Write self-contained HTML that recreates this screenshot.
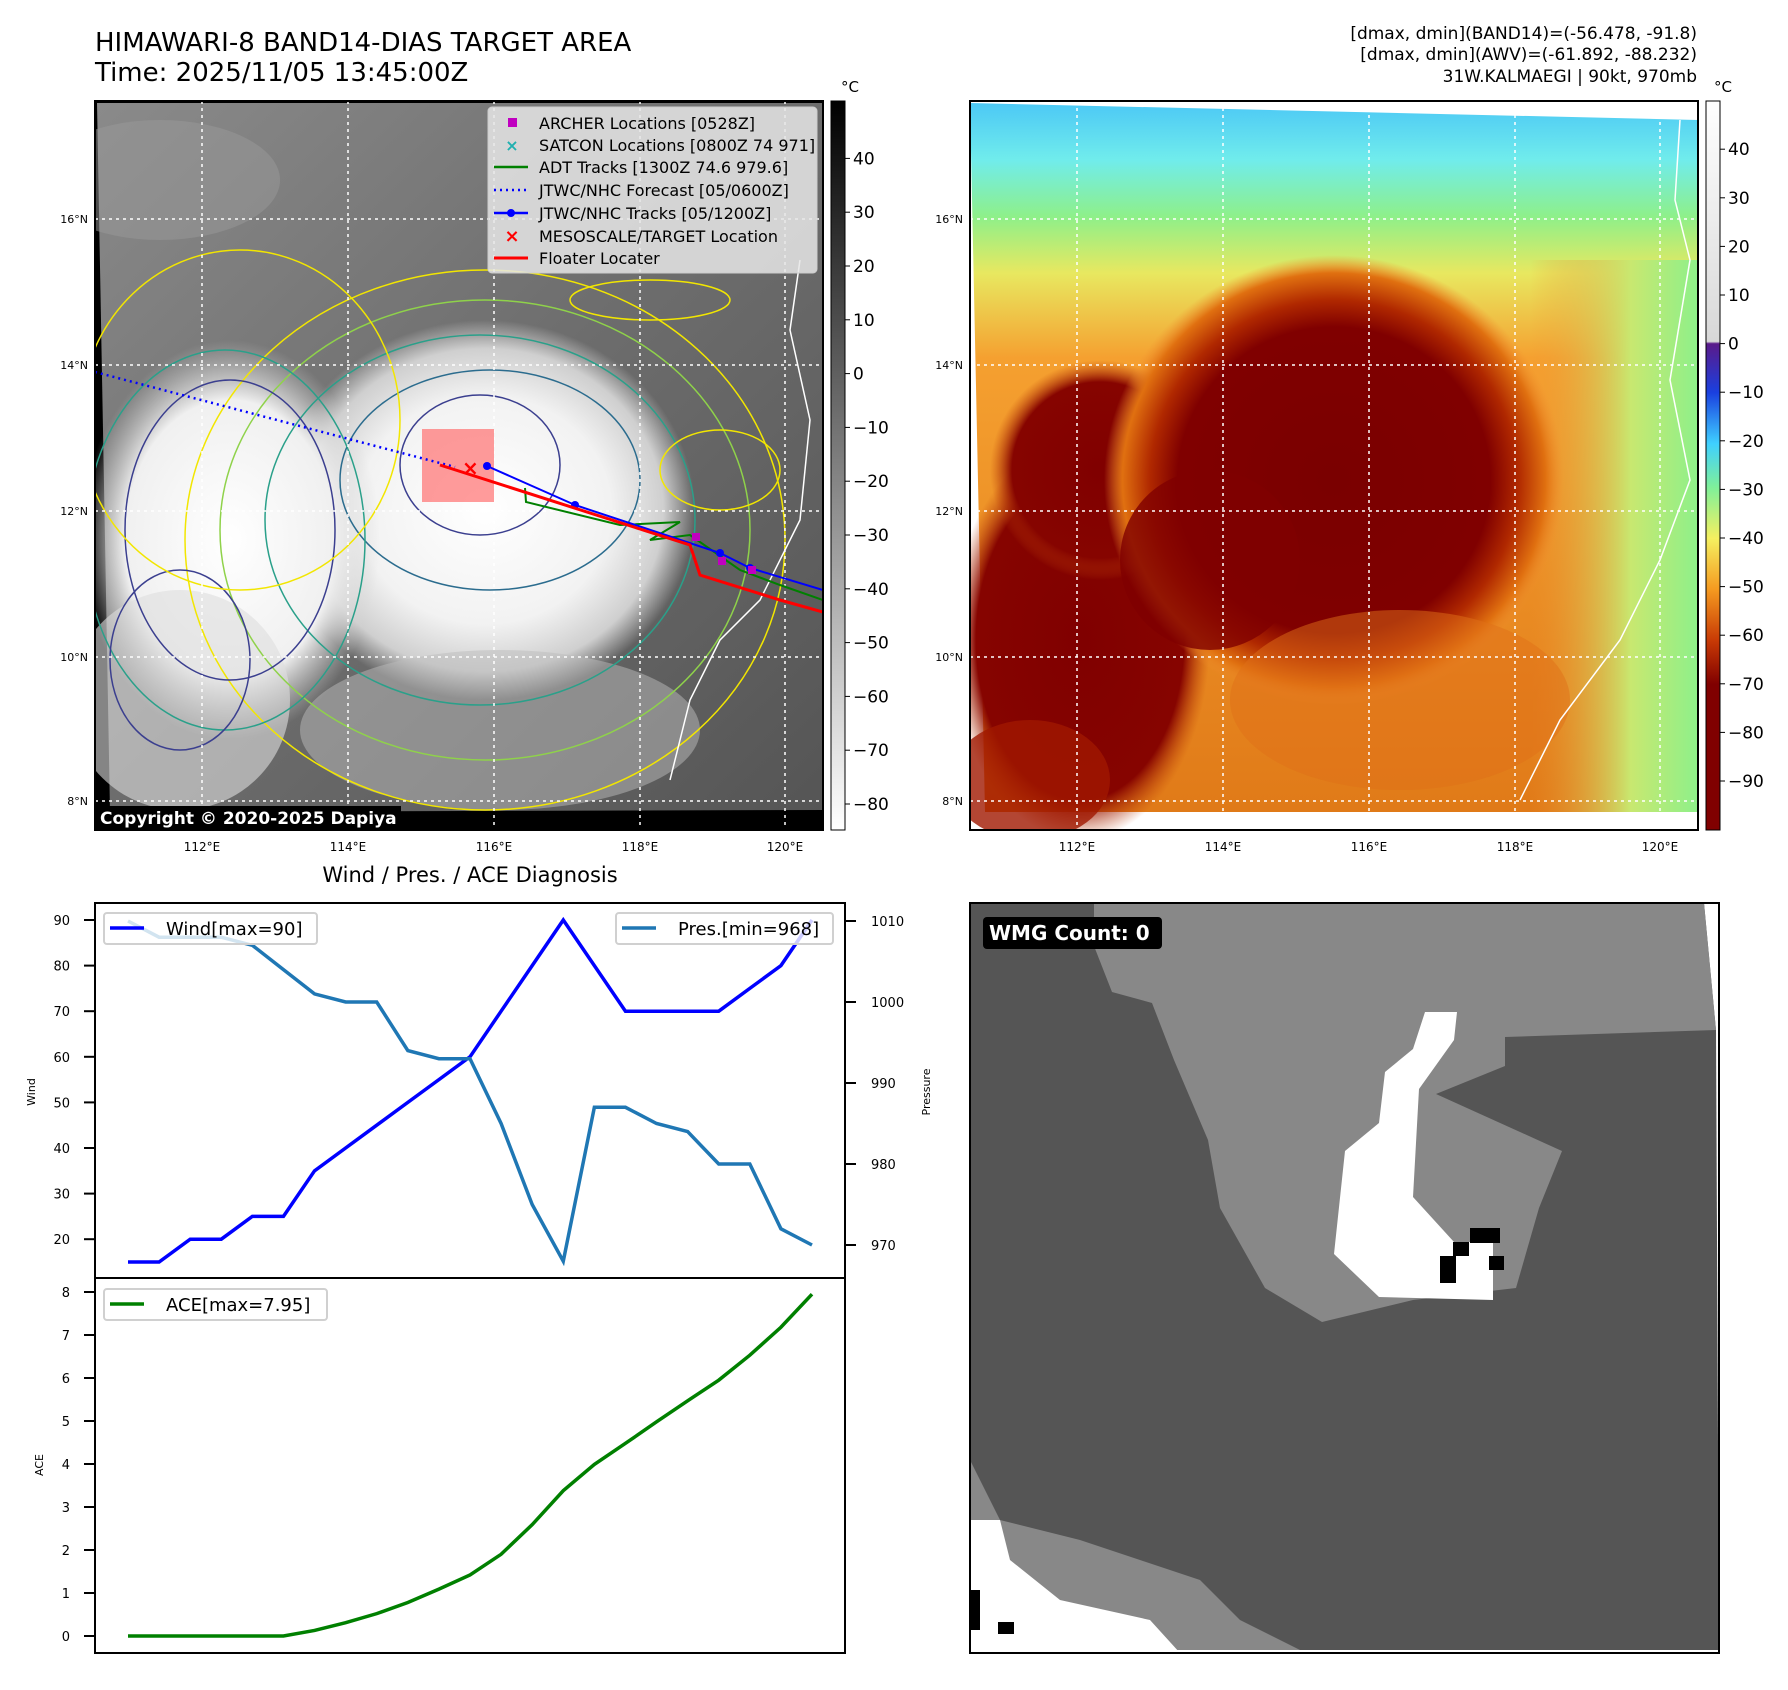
<!DOCTYPE html>
<html><head><meta charset="utf-8">
<style>
html,body{margin:0;padding:0;background:#fff;}
svg{display:block;font-family:"DejaVu Sans","Liberation Sans",sans-serif;}
</style></head>
<body>
<svg id="fig" width="1788" height="1690" viewBox="0 0 1788 1690" xmlns="http://www.w3.org/2000/svg">
<defs>
  <linearGradient id="cbGray" x1="0" y1="1" x2="0" y2="0">
    <stop offset="0" stop-color="#fff"/><stop offset="1" stop-color="#000"/>
  </linearGradient>
  <linearGradient id="cbColor" x1="0" y1="0" x2="0" y2="1">
    <stop offset="0" stop-color="#ffffff"/>
    <stop offset="0.33" stop-color="#d8d8d8"/>
    <stop offset="0.333" stop-color="#5a1a8a"/>
    <stop offset="0.40" stop-color="#1a40e0"/>
    <stop offset="0.47" stop-color="#3fd0ff"/>
    <stop offset="0.53" stop-color="#7ff09a"/>
    <stop offset="0.60" stop-color="#f5f060"/>
    <stop offset="0.67" stop-color="#f59a20"/>
    <stop offset="0.74" stop-color="#c83a05"/>
    <stop offset="0.80" stop-color="#800000"/>
    <stop offset="1" stop-color="#800000"/>
  </linearGradient>
  <linearGradient id="tlBg" x1="0" y1="0" x2="1" y2="1">
    <stop offset="0" stop-color="#8a8a8a"/><stop offset="0.5" stop-color="#6d6d6d"/><stop offset="1" stop-color="#555"/>
  </linearGradient>
  <radialGradient id="storm1" cx="0.5" cy="0.5" r="0.5">
    <stop offset="0" stop-color="#fff"/><stop offset="0.6" stop-color="#f2f2f2"/><stop offset="0.85" stop-color="#cfcfcf"/><stop offset="1" stop-color="#cfcfcf" stop-opacity="0"/>
  </radialGradient>
  <radialGradient id="storm2" cx="0.5" cy="0.5" r="0.5">
    <stop offset="0" stop-color="#fff"/><stop offset="0.7" stop-color="#f0f0f0"/><stop offset="1" stop-color="#d0d0d0" stop-opacity="0"/>
  </radialGradient>
  <linearGradient id="trBg" x1="0" y1="0" x2="0" y2="1">
    <stop offset="0" stop-color="#4cc8f5"/><stop offset="0.08" stop-color="#70ecec"/><stop offset="0.16" stop-color="#8ef08a"/><stop offset="0.24" stop-color="#e8e860"/><stop offset="0.36" stop-color="#f5a030"/><stop offset="1" stop-color="#e07a18"/>
  </linearGradient>
  <radialGradient id="trCore" cx="0.5" cy="0.5" r="0.5">
    <stop offset="0" stop-color="#7a0000"/><stop offset="0.68" stop-color="#800000"/><stop offset="0.8" stop-color="#b02800"/><stop offset="0.92" stop-color="#e07010"/><stop offset="1" stop-color="#f09030" stop-opacity="0"/>
  </radialGradient>
  <radialGradient id="trLeft" cx="0.5" cy="0.5" r="0.5">
    <stop offset="0" stop-color="#800000"/><stop offset="0.8" stop-color="#860400"/><stop offset="1" stop-color="#c04008" stop-opacity="0"/>
  </radialGradient>
  <linearGradient id="trRight" x1="0" y1="0" x2="1" y2="0">
    <stop offset="0" stop-color="#f09030" stop-opacity="0"/><stop offset="0.6" stop-color="#c8e870"/><stop offset="1" stop-color="#8ef08a"/>
  </linearGradient>
  <clipPath id="clipTL"><rect x="95" y="101" width="728" height="729"/></clipPath>
  <clipPath id="clipTR"><rect x="970" y="101" width="728" height="729"/></clipPath>
  <clipPath id="clipBR"><rect x="970" y="903" width="749" height="750"/></clipPath>
</defs>

<!-- Titles -->
<text x="95" y="51" font-size="26">HIMAWARI-8 BAND14-DIAS TARGET AREA</text>
<text x="95" y="81" font-size="26">Time: 2025/11/05 13:45:00Z</text>
<g font-size="17" text-anchor="end">
  <text x="1697" y="39">[dmax, dmin](BAND14)=(-56.478, -91.8)</text>
  <text x="1697" y="60">[dmax, dmin](AWV)=(-61.892, -88.232)</text>
  <text x="1697" y="82">31W.KALMAEGI | 90kt, 970mb</text>
</g>

<!-- TL map -->
<g clip-path="url(#clipTL)">
  <rect x="95" y="101" width="728" height="729" fill="#000"/>
  <polygon points="97,103 823,103 823,810 110,812" fill="url(#tlBg)"/>
  <ellipse cx="160" cy="180" rx="120" ry="60" fill="#999" opacity="0.5"/>
  <ellipse cx="485" cy="510" rx="210" ry="190" fill="url(#storm1)"/>
  <ellipse cx="230" cy="540" rx="150" ry="200" fill="url(#storm2)"/>
  <ellipse cx="180" cy="700" rx="110" ry="110" fill="#ddd" opacity="0.6"/>
  <ellipse cx="500" cy="730" rx="200" ry="80" fill="#bbb" opacity="0.5"/>
  <g fill="none" stroke-width="1.5">
    <ellipse cx="485" cy="540" rx="300" ry="270" stroke="#f2e600"/>
    <ellipse cx="485" cy="530" rx="265" ry="230" stroke="#8fd24a"/>
    <ellipse cx="480" cy="520" rx="215" ry="185" stroke="#2aa08a"/>
    <ellipse cx="490" cy="480" rx="150" ry="110" stroke="#2b6c8e"/>
    <ellipse cx="480" cy="465" rx="80" ry="70" stroke="#3b3f8f"/>
    <ellipse cx="225" cy="540" rx="140" ry="190" stroke="#2aa08a"/>
    <ellipse cx="230" cy="530" rx="105" ry="150" stroke="#3b3f8f"/>
    <ellipse cx="180" cy="660" rx="70" ry="90" stroke="#3b3f8f"/>
    <ellipse cx="240" cy="420" rx="160" ry="170" stroke="#f2e600"/>
    <ellipse cx="720" cy="470" rx="60" ry="40" stroke="#f2e600"/>
    <ellipse cx="650" cy="300" rx="80" ry="20" stroke="#f2e600"/>
  </g>
  <polyline points="800,260 790,330 810,420 800,520 760,600 720,640 690,700 670,780" fill="none" stroke="#fff" stroke-width="1.5"/>
  <g stroke="#fff" stroke-width="1.5" stroke-dasharray="3,4">
    <line x1="202" y1="101" x2="202" y2="830"/><line x1="348" y1="101" x2="348" y2="830"/><line x1="494" y1="101" x2="494" y2="830"/><line x1="640" y1="101" x2="640" y2="830"/><line x1="785" y1="101" x2="785" y2="830"/>
    <line x1="95" y1="219" x2="823" y2="219"/><line x1="95" y1="365" x2="823" y2="365"/><line x1="95" y1="511" x2="823" y2="511"/><line x1="95" y1="657" x2="823" y2="657"/><line x1="95" y1="801" x2="823" y2="801"/>
  </g>
  <rect x="422" y="429" width="72" height="73" fill="#ff7070" opacity="0.7"/>
  <line x1="95" y1="372" x2="455" y2="467" stroke="#0000ff" stroke-width="2.5" stroke-dasharray="2,4"/>
  <polyline points="525,488 526,502 620,525 680,522 650,540 690,535 740,570 780,585 823,600" fill="none" stroke="#008000" stroke-width="2"/>
  <polyline points="487,466 575,505 720,553 750,568 823,590" fill="none" stroke="#0000ff" stroke-width="2"/>
  <g fill="#0000ff"><circle cx="487" cy="466" r="4"/><circle cx="575" cy="505" r="4"/><circle cx="720" cy="553" r="4"/><circle cx="750" cy="568" r="4"/></g>
  <polyline points="440,465 690,545 700,575 780,600 823,612" fill="none" stroke="#ff0000" stroke-width="3"/>
  <g fill="#c000c0"><rect x="692" y="533" width="8" height="8"/><rect x="718" y="557" width="8" height="8"/><rect x="748" y="566" width="8" height="8"/></g>
  <text x="462" y="475" fill="#ff0000" font-size="20" font-weight="bold">×</text>
  <rect x="95" y="806" width="306" height="24" fill="#000"/>
  <text x="100" y="824" fill="#fff" font-size="17" font-weight="bold">Copyright © 2020-2025 Dapiya</text>
</g>
<rect x="95" y="101" width="728" height="729" fill="none" stroke="#000" stroke-width="2"/>

<!-- TL legend -->
<g font-size="16">
  <rect x="488" y="107" width="329" height="166" rx="4" fill="#e6e6e6" fill-opacity="0.85" stroke="#ccc"/>
  <rect x="508" y="118" width="9" height="9" fill="#c000c0"/>
  <text x="512" y="151" fill="#20b0b0" font-size="16" font-weight="bold" text-anchor="middle">×</text>
  <line x1="494" y1="167" x2="528" y2="167" stroke="#008000" stroke-width="2.5"/>
  <line x1="494" y1="190" x2="528" y2="190" stroke="#0000ff" stroke-width="2.5" stroke-dasharray="2,4"/>
  <line x1="494" y1="213" x2="528" y2="213" stroke="#0000ff" stroke-width="2.5"/><circle cx="511" cy="213" r="4" fill="#0000ff"/>
  <text x="512" y="242" fill="#ff0000" font-size="18" font-weight="bold" text-anchor="middle">×</text>
  <line x1="494" y1="258" x2="528" y2="258" stroke="#ff0000" stroke-width="3"/>
  <text x="539" y="129">ARCHER Locations [0528Z]</text>
  <text x="539" y="151">SATCON Locations [0800Z 74 971]</text>
  <text x="539" y="173">ADT Tracks [1300Z 74.6 979.6]</text>
  <text x="539" y="196">JTWC/NHC Forecast [05/0600Z]</text>
  <text x="539" y="219">JTWC/NHC Tracks [05/1200Z]</text>
  <text x="539" y="242">MESOSCALE/TARGET Location</text>
  <text x="539" y="264">Floater Locater</text>
</g>

<!-- TR map -->
<g clip-path="url(#clipTR)">
  <rect x="970" y="101" width="728" height="729" fill="#fff"/>
  <polygon points="970,103 1698,120 1698,812 985,812" fill="url(#trBg)"/>
  <rect x="1530" y="260" width="168" height="552" fill="url(#trRight)"/>
  <ellipse cx="1080" cy="640" rx="130" ry="200" fill="url(#trLeft)"/>
  <ellipse cx="1100" cy="470" rx="110" ry="110" fill="url(#trLeft)"/>
  <ellipse cx="1030" cy="780" rx="80" ry="60" fill="#a01800" opacity="0.8"/>
  <ellipse cx="1334" cy="480" rx="230" ry="225" fill="url(#trCore)"/>
  <ellipse cx="1210" cy="560" rx="90" ry="90" fill="#800000" opacity="0.8"/>
  <ellipse cx="1400" cy="700" rx="170" ry="90" fill="#e07018" opacity="0.5"/>
  <polyline points="1680,120 1675,200 1690,260 1670,380 1690,480 1660,560 1620,640 1560,720 1520,800" fill="none" stroke="#fff" stroke-width="1.5"/>
  <g stroke="#fff" stroke-width="1.5" stroke-dasharray="3,4">
    <line x1="1077" y1="101" x2="1077" y2="830"/><line x1="1223" y1="101" x2="1223" y2="830"/><line x1="1369" y1="101" x2="1369" y2="830"/><line x1="1515" y1="101" x2="1515" y2="830"/><line x1="1660" y1="101" x2="1660" y2="830"/>
    <line x1="970" y1="219" x2="1698" y2="219"/><line x1="970" y1="365" x2="1698" y2="365"/><line x1="970" y1="511" x2="1698" y2="511"/><line x1="970" y1="657" x2="1698" y2="657"/><line x1="970" y1="801" x2="1698" y2="801"/>
  </g>
</g>
<rect x="970" y="101" width="728" height="729" fill="none" stroke="#000" stroke-width="2"/>

<!-- Map axis labels -->
<g font-size="11" text-anchor="end">
  <text x="88" y="223">16°N</text><text x="88" y="369">14°N</text><text x="88" y="515">12°N</text><text x="88" y="661">10°N</text><text x="88" y="805">8°N</text>
  <text x="963" y="223">16°N</text><text x="963" y="369">14°N</text><text x="963" y="515">12°N</text><text x="963" y="661">10°N</text><text x="963" y="805">8°N</text>
</g>
<g font-size="12" text-anchor="middle">
  <text x="202" y="851">112°E</text><text x="348" y="851">114°E</text><text x="494" y="851">116°E</text><text x="640" y="851">118°E</text><text x="785" y="851">120°E</text>
  <text x="1077" y="851">112°E</text><text x="1223" y="851">114°E</text><text x="1369" y="851">116°E</text><text x="1515" y="851">118°E</text><text x="1660" y="851">120°E</text>
</g>

<!-- Colorbars -->
<g>
  <rect x="831" y="101" width="14" height="729" fill="url(#cbGray)" stroke="#000" stroke-width="1"/>
  <text x="841" y="92" font-size="15">°C</text>
  <g id="cbTL" font-size="17"></g>
</g>
<g>
  <rect x="1706" y="101" width="14" height="729" fill="url(#cbColor)" stroke="#000" stroke-width="1"/>
  <text x="1714" y="92" font-size="15">°C</text>
  <g id="cbTR" font-size="17"></g>
</g>

<!-- Bottom-left chart -->
<text x="470" y="882" font-size="21" text-anchor="middle">Wind / Pres. / ACE Diagnosis</text>
<g id="diag"></g>

<!-- Bottom-right WMG panel -->
<g clip-path="url(#clipBR)">
  <rect x="970" y="903" width="749" height="750" fill="#fff"/>
  <polygon points="970,903 1704,903 1716,1030 1719,1650 970,1650" fill="#555"/>
  <polygon points="1094,903 1704,903 1716,1030 1505,1037 1505,1066 1436,1094 1562,1151 1539,1208 1516,1288 1413,1300 1322,1322 1265,1288 1220,1208 1208,1140 1174,1060 1152,1003 1112,992 1094,946" fill="#888"/>
  <polygon points="1425,1012 1457,1012 1454,1040 1419,1089 1413,1197 1454,1242 1493,1242 1493,1300 1379,1297 1334,1254 1345,1151 1379,1123 1385,1072 1413,1049" fill="#fff"/>
  <g fill="#000"><rect x="1470" y="1228" width="30" height="15"/><rect x="1453" y="1242" width="16" height="14"/><rect x="1440" y="1256" width="16" height="27"/><rect x="1489" y="1256" width="15" height="14"/></g>
  <polygon points="970,1460 1000,1520 1080,1540 1140,1560 1200,1580 1240,1620 1300,1650 970,1650" fill="#888"/>
  <polygon points="970,1520 1000,1520 1010,1560 1060,1600 1150,1620 1180,1653 970,1653" fill="#fff"/>
  <rect x="970" y="1590" width="10" height="40" fill="#000"/><rect x="998" y="1622" width="16" height="12" fill="#000"/>
</g>
<rect x="970" y="903" width="749" height="750" fill="none" stroke="#000" stroke-width="2"/>
<rect x="983" y="917" width="179" height="32" rx="4" fill="#000"/>
<text x="989" y="940" font-size="20" font-weight="bold" fill="#fff">WMG Count: 0</text>

<script>
// Diagnosis chart data
const windVals = [15,15,20,20,25,25,35,40,45,50,55,60,70,80,90,80,70,70,70,70,75,80,90];
const presVals = [1010,1008,1008,1008,1007,1004,1001,1000,1000,994,993,993,985,975,968,987,987,985,984,980,980,972,970];
const aceVals = [0,0,0,0,0,0,0.13,0.31,0.52,0.78,1.09,1.42,1.9,2.59,3.38,3.99,4.48,4.98,5.47,5.95,6.53,7.18,7.95];
const windTicks = [20,30,40,50,60,70,80,90];
const presTicks = [970,980,990,1000,1010];
const aceTicks = [0,1,2,3,4,5,6,7,8];
const grayTicks = [40,30,20,10,0,-10,-20,-30,-40,-50,-60,-70,-80];
const colorTicks = [40,30,20,10,0,-10,-20,-30,-40,-50,-60,-70,-80,-90];

const NS = "http://www.w3.org/2000/svg";
function mk(parent, tag, attrs, text) {
  const e = document.createElementNS(NS, tag);
  for (const k in attrs) e.setAttribute(k, attrs[k]);
  if (text !== undefined) e.textContent = text;
  parent.appendChild(e);
  return e;
}
const xOf = i => 128 + i * (812 - 128) / (windVals.length - 1);
const yWind = v => 920 - (v - 90) * 4.56;
const yPres = v => 921 + (1010 - v) * 8.1;
const yAce = v => 1636 - v * 43;
const yGray = v => 804 - (v + 80) * 5.38;
const yColor = v => 781 - (v + 90) * 4.86;

const cbTL = document.getElementById('cbTL');
grayTicks.forEach(t => {
  const y = yGray(t);
  const tk = mk(cbTL, 'line', {x1: 845, x2: 850, y1: y, y2: y, stroke: '#000'});
  
  
  const lb = mk(cbTL, 'text', {x: 853, y: y + 6}, (t < 0 ? '\u2212' + (-t) : String(t)));
  
  
});
const cbTR = document.getElementById('cbTR');
colorTicks.forEach(t => {
  const y = yColor(t);
  const tk = mk(cbTR, 'line', {x1: 1720, x2: 1725, y1: y, y2: y, stroke: '#000'});
  
  
  const lb = mk(cbTR, 'text', {x: 1728, y: y + 6}, (t < 0 ? '\u2212' + (-t) : String(t)));
  
  
});

const g = document.getElementById('diag');
const frame1 = mk(g, 'rect', {x: 95, y: 903, width: 750, height: 375, fill: 'none', stroke: '#000', 'stroke-width': 2});


const frame2 = mk(g, 'rect', {x: 95, y: 1278, width: 750, height: 375, fill: 'none', stroke: '#000', 'stroke-width': 2});



windTicks.forEach(t => {
  const y = yWind(t);
  const tk = mk(g, 'line', {x1: 84, x2: 95, y1: y, y2: y, stroke: '#000', 'stroke-width': 2});
  
  
  const lb = mk(g, 'text', {x: 70, y: y + 5, 'font-size': 13, 'text-anchor': 'end'}, String(t));
  
  
});
presTicks.forEach(t => {
  const y = yPres(t);
  const tk = mk(g, 'line', {x1: 845, x2: 856, y1: y, y2: y, stroke: '#000', 'stroke-width': 2});
  
  
  const lb = mk(g, 'text', {x: 871, y: y + 5, 'font-size': 13}, String(t));
  
  
});
aceTicks.forEach(t => {
  const y = yAce(t);
  const tk = mk(g, 'line', {x1: 84, x2: 95, y1: y, y2: y, stroke: '#000', 'stroke-width': 2});
  
  
  const lb = mk(g, 'text', {x: 70, y: y + 5, 'font-size': 13, 'text-anchor': 'end'}, String(t));
  
  
});
const yl1 = mk(g, 'text', {x: 0, y: 0, 'font-size': 11, 'text-anchor': 'middle', transform: 'translate(35,1092) rotate(-90)'}, 'Wind');


const yl2 = mk(g, 'text', {x: 0, y: 0, 'font-size': 11, 'text-anchor': 'middle', transform: 'translate(930,1092) rotate(-90)'}, 'Pressure');


const yl3 = mk(g, 'text', {x: 0, y: 0, 'font-size': 11, 'text-anchor': 'middle', transform: 'translate(43,1465) rotate(-90)'}, 'ACE');



const wl = mk(g, 'polyline', {points: windVals.map((v, i) => xOf(i) + ',' + yWind(v)).join(' '), fill: 'none', stroke: '#0000ff', 'stroke-width': 3.5});


const pl = mk(g, 'polyline', {points: presVals.map((v, i) => xOf(i) + ',' + yPres(v)).join(' '), fill: 'none', stroke: '#1f77b4', 'stroke-width': 3.5});


const al = mk(g, 'polyline', {points: aceVals.map((v, i) => xOf(i) + ',' + yAce(v)).join(' '), fill: 'none', stroke: '#008000', 'stroke-width': 3.5});



function legend(name, x, y, w, color, label) {
  const lg = mk(g, 'g', {});
  
  
  mk(lg, 'rect', {x: x, y: y, width: w, height: 31, rx: 3, fill: '#fff', 'fill-opacity': 0.8, stroke: '#d0d0d0', 'stroke-width': 2});
  mk(lg, 'line', {x1: x + 6, x2: x + 40, y1: y + 15, y2: y + 15, stroke: color, 'stroke-width': 3.5});
  mk(lg, 'text', {x: x + 62, y: y + 22, 'font-size': 18}, label);
}
legend('wind-legend', 104, 913, 213, '#0000ff', 'Wind[max=90]');
legend('pressure-legend', 616, 913, 217, '#1f77b4', 'Pres.[min=968]');
legend('ace-legend', 104, 1289, 223, '#008000', 'ACE[max=7.95]');
</script>
</svg>
</body></html>
